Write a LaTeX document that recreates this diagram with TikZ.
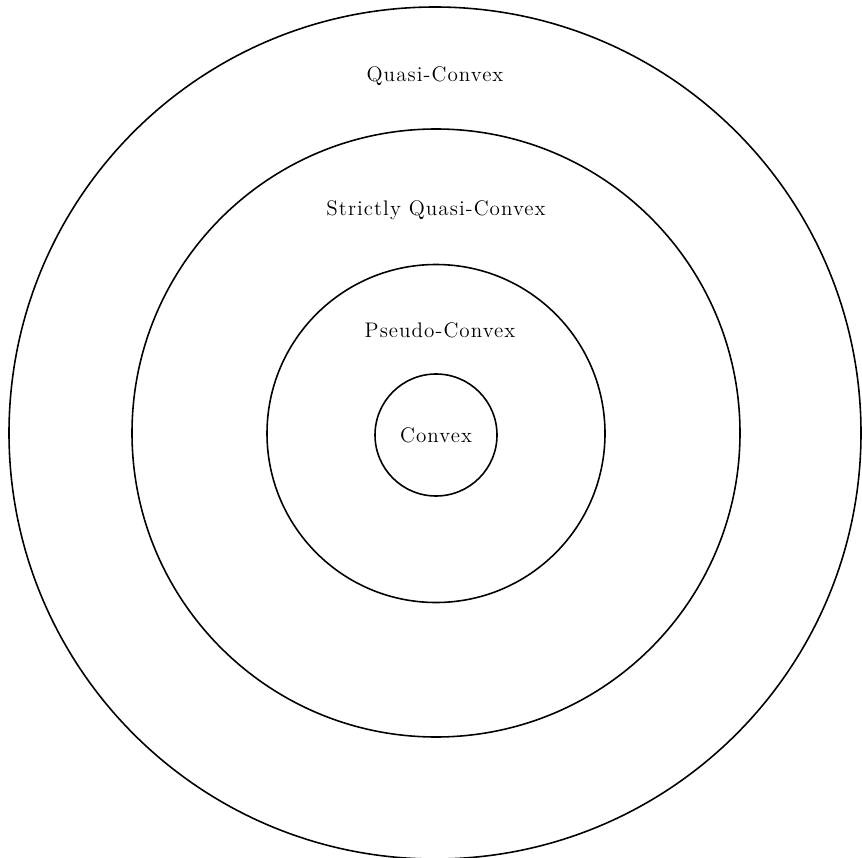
\documentclass[tikz,border=0pt]{standalone}
\usepackage{fontspec}
\setmainfont[LetterSpace=5]{Latin Modern Roman}
\usepackage{tikz}
\usetikzlibrary{positioning}

\begin{document}
\begin{tikzpicture}[x=0.02cm,y=-0.02cm]
		\tikzstyle{ring} = [draw=black, line width=0.9pt]
		\tikzstyle{label} = [inner sep=0, font=\fontsize{12}{14}\selectfont]
		
		\useasboundingbox (0,0) rectangle (862,858);
		
		\draw [ring] (435,433) circle (426);
		\draw [ring] (436,433) circle (304);
		\draw [ring] (436,433.5) circle (169);
		\draw [ring] (436,435) circle (61);
		
		\node [label] (quasi) at (435,76) {Quasi-Convex};
		\node [label] (strict) at (436,210) {Strictly Quasi-Convex};
		\node [label] (pseudo) at (440,330) {Pseudo-Convex};
		\node [label] (convex) at (436,435) {Convex};
		\end{tikzpicture}
\end{document}
